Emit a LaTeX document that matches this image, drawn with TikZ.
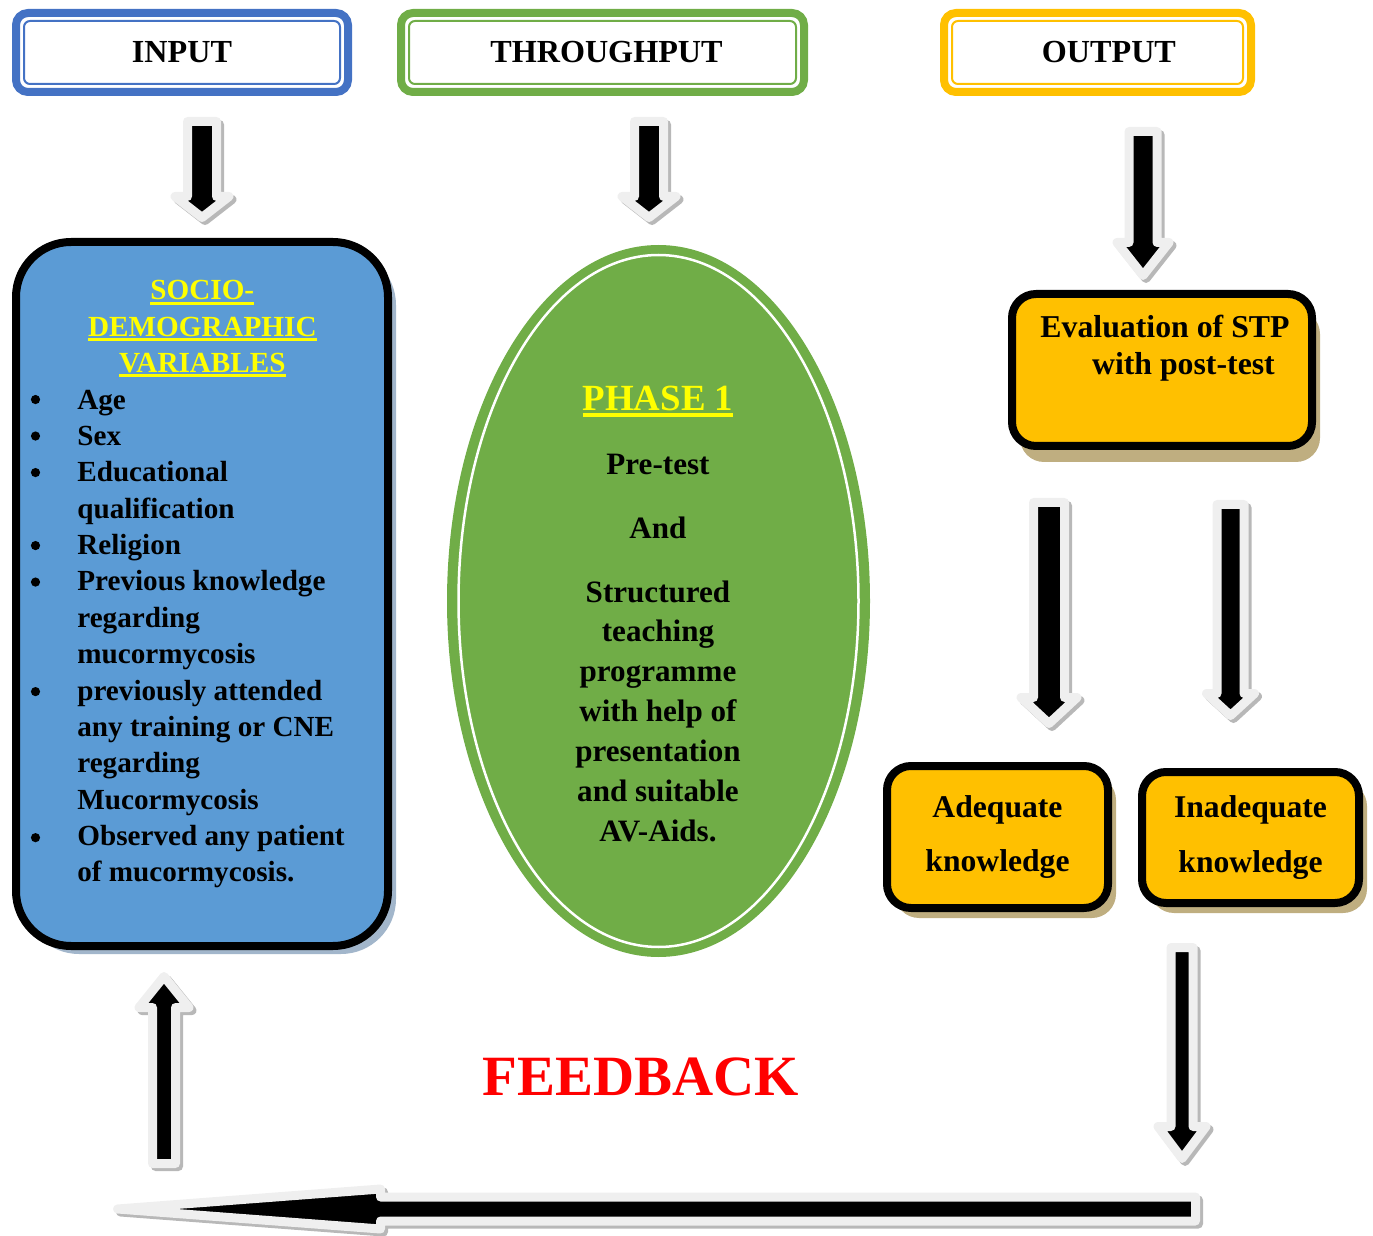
\documentclass[tikz,border=0pt]{standalone}
\usepackage{fontspec}
\setmainfont{Liberation Serif}
\usetikzlibrary{calc,shapes.geometric,shadows}

\definecolor{inblue}{HTML}{4472C4}
\definecolor{sociofill}{HTML}{5B9BD5}
\definecolor{blueshade}{HTML}{A2B6CB}
\definecolor{thgreen}{HTML}{70AD47}
\definecolor{outgold}{HTML}{FFC000}
\definecolor{goldshade}{HTML}{BFAE80}
\definecolor{titleyellow}{HTML}{FFFF00}
\definecolor{feedred}{HTML}{FF0000}
\definecolor{rimgrey}{HTML}{EFEFEF}
\definecolor{dropgrey}{HTML}{B8B8B8}

% one pixel of the drawing
\newlength{\pxu}
\setlength{\pxu}{0.02cm}

% yellow underlined heading
\newcommand{\yline}[1]{\textcolor{titleyellow}{\setbox0\hbox{#1}\rlap{\rule[-0.16em]{\wd0}{0.1em}}\box0}}

% block arrow: start, angle, length, head length, shaft half width, head half width
\newcommand{\blockarrow}[6]{%
  \begin{scope}[shift={($#1+(3,3)$)}, rotate=#2]
    \filldraw[arrshade] (0,{-#5}) -- ({#3-#4},{-#5}) -- ({#3-#4},{-#6}) -- (#3,0)
      -- ({#3-#4},#6) -- ({#3-#4},#5) -- (0,#5) -- cycle;
  \end{scope}
  \begin{scope}[shift={#1}, rotate=#2]
    \filldraw[arrbody] (0,{-#5}) -- ({#3-#4},{-#5}) -- ({#3-#4},{-#6}) -- (#3,0)
      -- ({#3-#4},#6) -- ({#3-#4},#5) -- (0,#5) -- cycle;
  \end{scope}}

\tikzset{
  headbox/.style={draw=#1, line width=8\pxu, rounded corners=12\pxu, minimum height=79\pxu,
    inner sep=0pt, font=\fontsize{18.3pt}{22pt}\selectfont\bfseries},
  headrim/.style={draw=#1, line width=2\pxu, rounded corners=6\pxu},
  sociobox/.style={draw=black, fill=sociofill, line width=8\pxu, rounded corners=55\pxu,
    drop shadow={shadow xshift=8\pxu, shadow yshift=-8\pxu, fill=blueshade, opacity=1}},
  goldbox/.style={draw=black, fill=outgold, line width=8\pxu, rounded corners=24\pxu,
    font=\fontsize{18pt}{31.2pt}\selectfont\bfseries, align=center,
    drop shadow={shadow xshift=8\pxu, shadow yshift=-#1\pxu, fill=goldshade, opacity=1}},
  goldbox/.default=10,
  listtext/.style={inner sep=0pt, font=\fontsize{16.6pt}{20.7pt}\selectfont\bfseries},
  phasetext/.style={inner sep=0pt, align=center, font=\fontsize{17.7pt}{22.7pt}\selectfont\bfseries},
  arrshade/.style={fill=dropgrey, draw=dropgrey, line width=9\pxu, line join=round},
  arrbody/.style={fill=black, draw=rimgrey, line width=9\pxu, line join=round}
}

\begin{document}
\begin{tikzpicture}[x=0.02cm, y=-0.02cm]
  \useasboundingbox (0,0) rectangle (1373,1236);

  %% headers
  \node[headbox=inblue, minimum width=332\pxu] (input) at (182,52.5) {INPUT};
  \node[headbox=thgreen, minimum width=403\pxu] (through) at (602.5,52.5) {\hspace*{4.5pt}THROUGHPUT};
  \node[headbox=outgold, minimum width=307\pxu] (output) at (1097.5,52.5) {\hspace*{13pt}OUTPUT};
  \foreach \n/\c in {input/inblue, through/thgreen, output/outgold}
    \draw[headrim=\c] ($(\n.south west)+(12,-12)$) rectangle ($(\n.north east)+(-12,12)$);

  %% input: socio-demographic variables
  \node[sociobox, minimum width=372\pxu, minimum height=704\pxu] (socio) at (202,594) {};
  \node[listtext, anchor=base west] (sociolist) at (29,300) {%
    \begin{tabular}[t]{@{}p{48\pxu}@{}p{298\pxu}@{}}
      \multicolumn{2}{@{}c@{}}{\yline{SOCIO-}}\\
      \multicolumn{2}{@{}c@{}}{\yline{DEMOGRAPHIC}}\\
      \multicolumn{2}{@{}c@{}}{\yline{VARIABLES}}\\
      & Age\\
      & Sex\\
      & Educational\\
      & qualification\\
      & Religion\\
      & Previous knowledge\\
      & regarding\\
      & mucormycosis\\
      & previously attended\\
      & any training or CNE\\
      & regarding\\
      & Mucormycosis\\
      & Observed any patient\\
      & of mucormycosis.
    \end{tabular}};
  % bullets on the rows that open an item
  \foreach \r in {3,4,5,7,8,11,15}
    \fill (35.5,{290+36.51*\r}) circle [radius=4.6\pxu];

  %% throughput: phase 1
  \node[ellipse, fill=thgreen, minimum width=423\pxu, minimum height=712\pxu, inner sep=0pt] (phase) at (658.5,601) {};
  \draw[white, line width=2.5\pxu] (phase.center) ellipse [x radius=200\pxu, y radius=346\pxu];
  \node[phasetext] (phaselines) at (658,614) {%
    {\fontsize{21pt}{22.7pt}\selectfont\yline{PHASE 1}}\\[13.6pt]
    Pre-test\\[13.6pt]
    And\\[13.6pt]
    Structured\\ teaching\\ programme\\ with help of\\ presentation\\ and suitable\\ AV-Aids.};

  %% output
  \node[goldbox=16, minimum width=300\pxu, minimum height=152\pxu] (eval) at (1162,370) {};
  \node[inner sep=0pt, anchor=base, font=\fontsize{18.1pt}{21pt}\selectfont\bfseries] (evaltext) at (1165,338)
    {\begin{tabular}[t]{@{}c@{}}Evaluation of STP\\\hspace*{21pt}with post-test\end{tabular}};
  \node[goldbox, minimum width=221\pxu, minimum height=142\pxu] (adequate) at (997.5,837) {Adequate\\knowledge};
  \node[goldbox, minimum width=217\pxu, minimum height=131\pxu] (inadequate) at (1250.5,837.5) {Inadequate\\knowledge};

  %% feedback
  \node[anchor=base, inner sep=0pt, text=feedred, font=\fontsize{32.4pt}{36pt}\selectfont\bfseries] (feedback) at (641,1095) {FEEDBACK};

  %% arrows
  \blockarrow{(202,121.5)}{-90}{96}{21}{14.5}{27}
  \blockarrow{(649,121.5)}{-90}{96}{21}{14.5}{27}
  \blockarrow{(1143,131.5)}{-90}{144}{33}{14}{26}
  \blockarrow{(1049,502.5)}{-90}{221}{26}{15.5}{28}
  \blockarrow{(1230.5,504.5)}{-90}{211}{22}{13.5}{24}
  \blockarrow{(1182,947.5)}{-90}{211}{32}{11}{24}
  \blockarrow{(164,1163.5)}{90}{187}{31}{11.5}{25}
  \blockarrow{(1195.5,1209)}{180}{1078}{263}{12}{20}
\end{tikzpicture}
\end{document}
